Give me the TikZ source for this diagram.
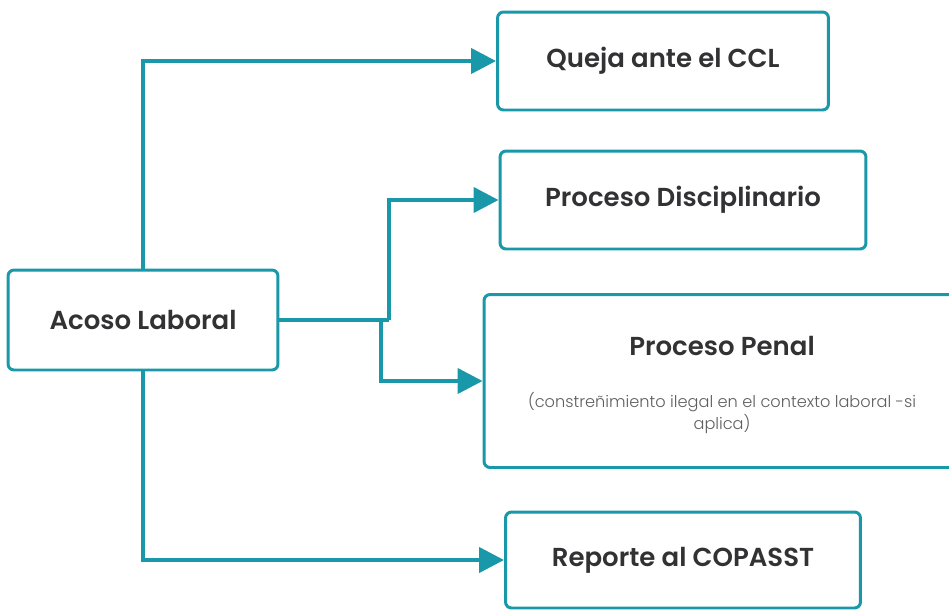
\documentclass[tikz,border=0pt]{standalone}
\usepackage{fontspec}
\setmainfont{Poppins}[BoldFont={Poppins SemiBold}]
\newfontfamily\lightfont{Poppins Light}
\usetikzlibrary{arrows.meta}
\definecolor{teal}{RGB}{24,152,168}
\definecolor{ink}{RGB}{50,50,52}
\definecolor{subink}{RGB}{95,95,98}
\newcommand{\subtext}{\lightfont\mdseries\fontsize{9.2}{11.3}\selectfont\color{subink}}
\tikzstyle{box} = [rectangle, rounded corners=0.12cm, draw=teal, line width=1.7pt, fill=white, text=ink, font=\fontsize{14.8}{16.8}\selectfont\bfseries, align=center]
\tikzstyle{flow} = [draw=teal, line width=2.4pt, -{Triangle[length=0.5cm, width=0.5cm]}]
\tikzstyle{flowline} = [draw=teal, line width=2.4pt]

\begin{document}
\begin{tikzpicture}[x=0.02cm, y=-0.02cm]
\useasboundingbox (0,0) rectangle (949,609);
\node (acoso) [box, minimum width=5.4cm, minimum height=2cm] at (143,320) {Acoso Laboral};
\node (queja) [box, minimum width=6.62cm, minimum height=1.96cm] at (663,61) {Queja ante el CCL};
\node (disciplinario) [box, minimum width=7.32cm, minimum height=1.96cm] at (683,200) {Proceso Disciplinario};
\node (penal) [box, minimum width=9.52cm, minimum height=3.46cm] at (722,381) {\mbox{}\\[-0.06cm]Proceso Penal\\[0.46cm]\subtext (constreñimiento ilegal en el contexto laboral -si\\[-0.16cm]\subtext aplica)};
\node (copasst) [box, minimum width=7.1cm, minimum height=1.92cm] at (683,560) {Reporte al COPASST};

\coordinate (split) at (389,320);
\coordinate (splitb) at (381,320);

\draw [flow] (acoso.north) |- (queja.west);
\draw [flowline] (acoso.east) -- (split);
\draw [flow] (split) |- (disciplinario.west);
\draw [flow] (splitb) |- (penal.west);
\draw [flow] (acoso.south) |- (copasst.west);

\end{tikzpicture}
\end{document}
